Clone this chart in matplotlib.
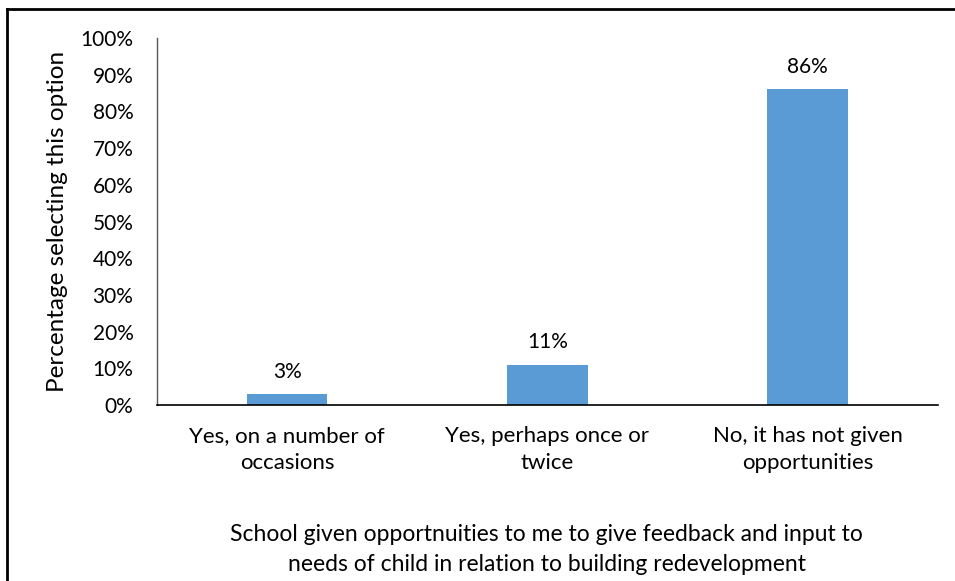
import matplotlib

matplotlib.use("Agg")
import matplotlib.pyplot as plt
from matplotlib.lines import Line2D
from matplotlib.ticker import PercentFormatter

categories = [
    "Yes, on a number of\noccasions",
    "Yes, perhaps once or\ntwice",
    "No, it has not given\nopportunities",
]
values = [3, 11, 86]
labels = ["3%", "11%", "86%"]
y_ticks = [0, 10, 20, 30, 40, 50, 60, 70, 80, 90, 100]

plt.rcParams["font.family"] = ["Lato", "DejaVu Sans"]

fig = plt.figure(figsize=(9.55, 5.81), dpi=100)
ax = fig.add_axes([0.1644, 0.3029, 0.8176, 0.6317])

x = range(len(categories))
bars = ax.bar(x, values, width=0.31, color="#5B9BD5")
for b, lab in zip(bars, labels):
    ax.annotate(lab, (b.get_x() + b.get_width() / 2, b.get_height()),
                xytext=(0, 9), textcoords="offset points",
                ha="center", va="bottom", fontsize=15, color="#000000")

ax.set_xlim(-0.5, len(categories) - 0.5)
ax.set_ylim(0, 100)
ax.set_yticks(y_ticks)
ax.yaxis.set_major_formatter(PercentFormatter(decimals=0))
ax.set_xticks(list(x))
ax.set_xticklabels(categories, fontsize=16, linespacing=1.45)
ax.tick_params(axis="y", length=0, pad=17, labelsize=15)
ax.tick_params(axis="x", length=0, pad=15)

for s in ("top", "right"):
    ax.spines[s].set_visible(False)
ax.spines["left"].set_color("#595959")
ax.spines["bottom"].set_color("#000000")
ax.spines["left"].set_linewidth(1.0)
ax.spines["bottom"].set_linewidth(1.2)

ax.set_ylabel("Percentage selecting this option", fontsize=17.5)
ax.yaxis.set_label_coords(-0.114, 0.5)
fig.text(0.5727, 0.054,
         "School given opportnuities to me to give feedback and input to\n"
         "needs of child in relation to building redevelopment",
         ha="center", va="center", fontsize=16.5, linespacing=1.55)

# outer frame: left and top edges only
fig.add_artist(Line2D([0.0077, 0.0077], [0, 0.984], transform=fig.transFigure,
                      color="black", linewidth=2))
fig.add_artist(Line2D([0.0077, 1], [0.984, 0.984], transform=fig.transFigure,
                      color="black", linewidth=2))

fig.savefig("out.png", dpi=100)
